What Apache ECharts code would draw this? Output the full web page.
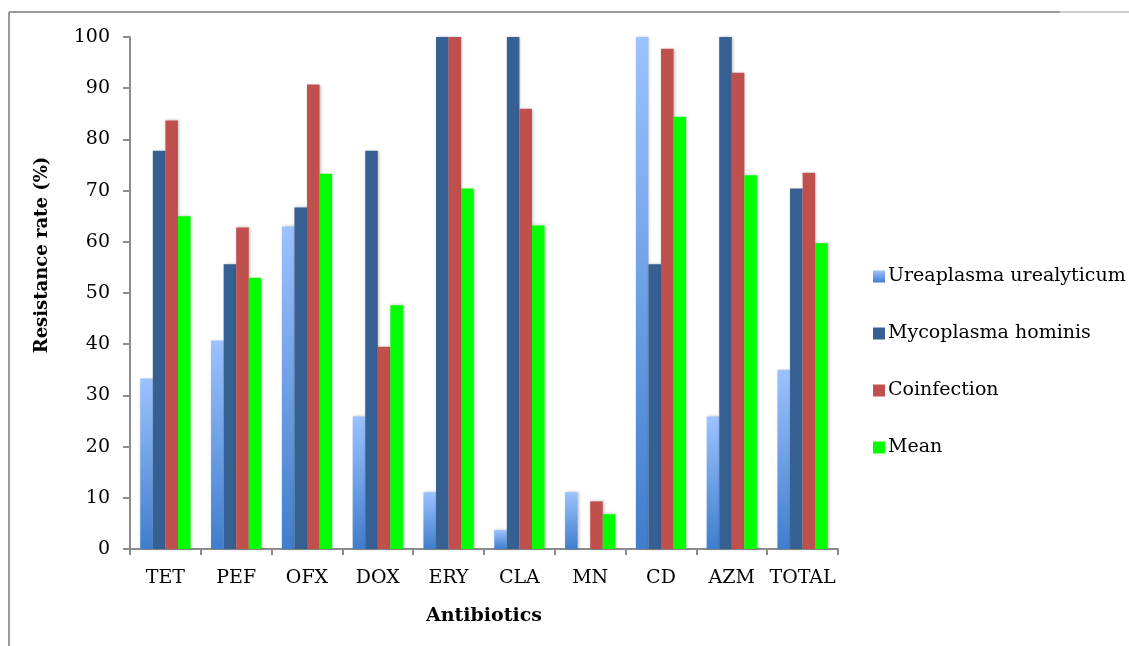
<!DOCTYPE html>
<html>
<head>
<meta charset="utf-8">
<script src="https://cdn.jsdelivr.net/npm/echarts@6/dist/echarts.min.js"></script>
<style>html,body{margin:0;padding:0;background:#fff}#c{width:1129px;height:646px}</style>
</head>
<body>
<div id="c"></div>
<script>
const categories = ['TET','PEF','OFX','DOX','ERY','CLA','MN','CD','AZM','TOTAL'];
const ureaplasma = [33.3, 40.7, 63.0, 25.9, 11.1, 3.7, 11.1, 100, 25.9, 35.0];
const mycoplasma = [77.8, 55.6, 66.7, 77.8, 100, 100, 0, 55.6, 100, 70.4];
const coinfection = [83.7, 62.8, 90.7, 39.5, 100, 86.0, 9.3, 97.7, 93.0, 73.5];
const meanVals = [65.0, 53.0, 73.3, 47.6, 70.4, 63.2, 6.8, 84.4, 73.0, 59.7];
const seriesNames = ['Ureaplasma urealyticum','Mycoplasma hominis','Coinfection','Mean'];

const FONT = 'DejaVu Serif';
const chart = echarts.init(document.getElementById('c'), null, {renderer:'canvas'});
const shadow = {shadowBlur:3, shadowColor:'rgba(0,0,0,0.25)', shadowOffsetX:1, shadowOffsetY:0};
const uGrad = new echarts.graphic.LinearGradient(0,0,0,1,[{offset:0,color:'#9CC2FF'},{offset:1,color:'#3F7ECC'}]);
function bar(name, data, color){
  return {name, type:'bar', data, barGap:0, barCategoryGap:'29%',
    itemStyle:Object.assign({color}, shadow)};
}
chart.setOption({
  animation:false,
  backgroundColor:'#fff',
  textStyle:{fontFamily:FONT, color:'#000'},
  grid:{left:130, right:291, top:37, bottom:97, containLabel:false},
  legend:{orient:'vertical', left:868, top:262, itemGap:38, itemWidth:12, itemHeight:12,
    icon:'rect', textStyle:{fontFamily:FONT, fontSize:19, color:'#000', padding:[0,0,0,-2]},
    data:seriesNames},
  xAxis:{type:'category', data:categories,
    name:'Antibiotics', nameLocation:'middle', nameGap:58,
    nameTextStyle:{fontFamily:FONT, fontSize:19, fontWeight:'bold', color:'#000'},
    axisLine:{lineStyle:{color:'#8c8c8c', width:2}},
    axisTick:{show:true, length:6, alignWithLabel:false, lineStyle:{color:'#8c8c8c', width:2}},
    axisLabel:{fontFamily:FONT, fontSize:19, color:'#000', margin:20, interval:0}},
  yAxis:{type:'value', min:0, max:100, interval:10,
    axisLine:{show:true, lineStyle:{color:'#8c8c8c', width:2}},
    axisTick:{show:true, length:7, lineStyle:{color:'#8c8c8c', width:2}},
    splitLine:{show:false},
    axisLabel:{fontFamily:FONT, fontSize:19, color:'#000', margin:20}},
  graphic:[
    {type:'line', shape:{x1:9,y1:12,x2:1060,y2:12}, style:{stroke:'#9a9a9a', lineWidth:2}},
    {type:'line', shape:{x1:1060,y1:12,x2:1129,y2:12}, style:{stroke:'#d0d0d0', lineWidth:2}},
    {type:'line', shape:{x1:9,y1:12,x2:9,y2:646}, style:{stroke:'#9a9a9a', lineWidth:2}},
    {type:'text', x:42, y:255, rotation:Math.PI/2, style:{text:'Resistance rate (%)', font:'bold 18px "DejaVu Serif"', fill:'#000', align:'center', verticalAlign:'middle'}}
  ],
  series:[
    bar(seriesNames[0], ureaplasma, uGrad),
    bar(seriesNames[1], mycoplasma, '#365F92'),
    bar(seriesNames[2], coinfection, '#C0504D'),
    bar(seriesNames[3], meanVals, '#00FF00')
  ]
});
</script>
</body>
</html>
